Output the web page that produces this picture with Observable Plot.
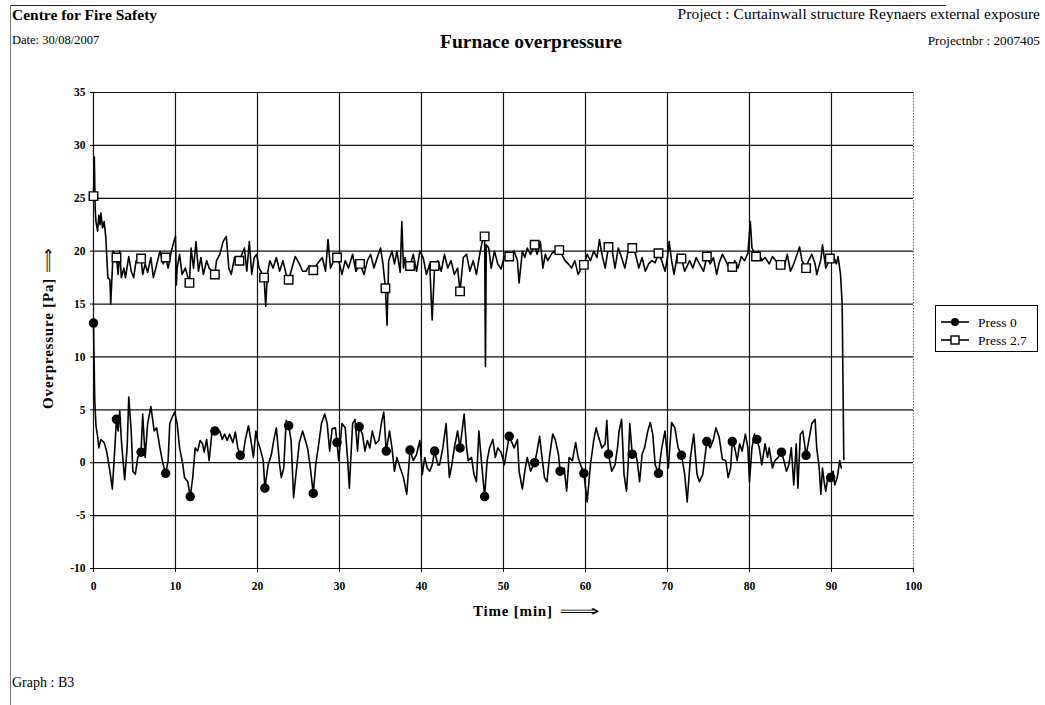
<!DOCTYPE html>
<html><head><meta charset="utf-8">
<script src="https://cdn.jsdelivr.net/npm/d3@7"></script>
<script src="https://cdn.jsdelivr.net/npm/@observablehq/plot@0.6"></script>
<style>
body{margin:0;background:#fff;}
#page{position:relative;width:1045px;height:705px;overflow:hidden;font-family:"Liberation Serif","Times New Roman",serif;color:#000;background:#fff;}
.t{position:absolute;white-space:nowrap;line-height:1;}
#chart{position:absolute;left:0;top:0;}
.arr{display:inline-block;transform:scaleX(1.9);transform-origin:left center;margin-left:6px;font-weight:normal;}
.arr2{display:inline-block;transform:scaleX(1.15);transform-origin:left center;margin-left:5px;font-weight:normal;}
</style></head><body>
<div id="page">
  <div style="position:absolute;left:10px;top:5px;width:936px;height:1px;background:#222"></div>
  <div style="position:absolute;left:10px;top:5px;width:1px;height:700px;background:#777"></div>
  <div class="t" style="left:12px;top:7px;font-size:15.5px;font-weight:bold">Centre for Fire Safety</div>
  <div class="t" style="left:12px;top:34px;font-size:12.5px">Date: 30/08/2007</div>
  <div class="t" style="left:0;width:1062px;text-align:center;top:32px;font-size:19.5px;font-weight:bold">Furnace overpressure</div>
  <div class="t" style="right:5px;top:6px;font-size:15.5px">Project : Curtainwall structure Reynaers external exposure</div>
  <div class="t" style="right:5px;top:34px;font-size:13.3px">Projectnbr : 2007405</div>
  <div id="chart"></div>
  <div class="t" style="left:473px;top:604px;font-size:15px;font-weight:bold;letter-spacing:0.8px">Time [min]<span class="arr">&#x27F9;</span></div>
  <div class="t" style="left:48px;top:328px;font-size:15px;font-weight:bold;letter-spacing:0.8px;transform:translate(-50%,-50%) rotate(-90deg)">Overpressure [Pa]<span class="arr2">&#x27F9;</span><span style="display:inline-block;width:3px"></span></div>
  <div class="t" style="left:12px;top:676px;font-size:14px">Graph : B3</div>
  <div id="legend" style="position:absolute;left:935px;top:305px;width:103px;height:47px;border:1px solid #000;box-sizing:border-box;background:#fff"></div>
</div>
<script>
// ---- data ----
const seriesNames = ["Press 0", "Press 2.7"];
const xTicks = [0, 10, 20, 30, 40, 50, 60, 70, 80, 90, 100];
const yTicks = [-10, -5, 0, 5, 10, 15, 20, 25, 30, 35];
const markerTimes = [0, 2.8, 5.8, 8.8, 11.75, 14.8, 17.85, 20.85, 23.8, 26.8, 29.7, 32.5, 35.65, 38.6, 41.6, 44.7, 47.7, 50.7, 53.8, 56.9, 59.8, 62.8, 65.7, 68.9, 71.7, 74.8, 77.9, 80.9, 83.9, 86.9, 89.8];

const press0Pairs = [[0,13.2],[0.15,6],[0.3,3.5],[0.5,2.5],[0.65,1.4],[0.9,2.2],[1.3,1.9],[1.6,1.1],[2.0,-0.8],[2.3,-2.5],[2.6,1.4],[2.8,4.1],[3.0,3.0],[3.2,4.9],[3.4,2.1],[3.8,-1.6],[4.1,1.4],[4.3,6.2],[4.6,3.0],[4.8,-0.8],[5.1,-1.1],[5.4,0.5],[5.8,1.0],[6.0,4.6],[6.3,0.5],[6.6,3.7],[7.0,5.3],[7.4,3.0],[7.7,3.3],[8.1,1.4],[8.5,-0.2],[8.8,-1.0],[9.1,0.2],[9.3,3.7],[9.6,4.3],[9.9,4.8],[10.2,3.7],[10.5,1.4],[10.9,-0.2],[11.1,-1.4],[11.5,-1.8],[11.8,-3.2],[12.1,-1.4],[12.4,1.4],[12.7,1.1],[13.0,2.1],[13.3,1.8],[13.5,1.0],[13.8,2.2],[14.1,0.2],[14.5,3.3],[14.8,3.0],[15.0,2.7],[15.4,3.0],[15.7,2.2],[16.0,2.7],[16.3,2.1],[16.6,2.7],[17.0,1.9],[17.3,2.9],[17.6,1.4],[17.9,0.7],[18.2,0.5],[18.5,2.1],[18.9,3.5],[19.2,2.1],[19.5,0.5],[19.8,3.0],[20.0,2.1],[20.3,1.4],[20.7,0.2],[20.9,-2.4],[21.3,-0.2],[21.7,0.8],[22.0,2.2],[22.3,3.3],[22.7,-0.2],[22.9,-1.4],[23.2,-0.5],[23.5,4.0],[23.8,3.5],[24.1,2.1],[24.4,-3.3],[24.7,-1.0],[25.1,1.9],[25.5,3.0],[25.8,2.2],[26.1,1.4],[26.4,-0.2],[26.8,-2.9],[27.1,-0.2],[27.4,1.4],[27.8,3.7],[28.2,4.6],[28.5,3.7],[28.8,1.1],[29.1,3.2],[29.5,3.3],[29.7,1.9],[29.9,0.2],[30.3,3.7],[30.7,3.3],[31.0,0.2],[31.2,-2.4],[31.6,3.7],[31.9,4.1],[32.2,1.1],[32.4,3.4],[32.8,2.7],[33.1,1.1],[33.4,2.1],[33.7,1.4],[34.0,3.0],[34.4,1.8],[34.8,2.1],[35.1,3.7],[35.4,4.8],[35.7,1.1],[36.1,3.0],[36.4,1.4],[36.7,-0.8],[37.0,0.5],[37.4,-0.5],[37.8,-1.4],[38.2,-3.0],[38.6,1.2],[39.0,0.2],[39.4,0.8],[39.8,2.1],[40.1,-1.1],[40.4,0.5],[40.7,-0.5],[41.0,-0.8],[41.3,-0.2],[41.6,1.1],[42.0,-0.2],[42.2,-0.2],[42.6,1.4],[43.0,3.7],[43.4,-1.4],[43.7,-0.2],[44.0,1.4],[44.4,3.0],[44.7,1.4],[44.9,2.7],[45.2,4.6],[45.5,1.4],[45.7,0.2],[46.1,0.5],[46.4,-1.1],[46.7,-1.8],[47.0,3.0],[47.3,0.2],[47.7,-3.2],[48.0,0.2],[48.3,1.4],[48.7,2.2],[49.0,0.5],[49.3,1.4],[49.7,1.0],[50.1,-0.2],[50.7,2.5],[51.3,1.4],[51.7,2.2],[51.9,-0.8],[52.3,-2.5],[52.6,-0.8],[52.9,0.5],[53.3,-0.8],[53.8,0.0],[54.1,1.1],[54.4,2.5],[54.7,0.5],[55.0,-1.4],[55.3,-1.8],[55.6,0.5],[56.0,2.7],[56.3,2.2],[56.7,0.8],[56.9,-0.8],[57.4,-0.5],[57.7,-2.7],[58.0,0.5],[58.4,0.2],[58.8,1.9],[59.1,0.5],[59.4,-0.2],[59.8,-1.0],[60.2,-3.7],[60.6,-0.2],[61.0,2.1],[61.3,3.3],[61.6,2.4],[62.0,1.4],[62.4,1.8],[62.6,4.0],[62.8,0.8],[63.2,-0.8],[63.6,-0.2],[63.9,1.4],[64.1,3.0],[64.4,4.1],[64.7,-1.1],[65.0,-2.7],[65.2,-0.2],[65.4,3.7],[65.7,0.8],[66.0,1.1],[66.3,0.2],[66.6,-1.8],[66.9,0.8],[67.2,1.4],[67.6,3.0],[67.9,3.8],[68.2,2.7],[68.5,-0.2],[68.9,-1.0],[69.3,1.4],[69.7,3.0],[70.1,-0.5],[70.5,3.8],[70.9,3.3],[71.3,1.4],[71.7,0.7],[72.1,-1.1],[72.4,-3.7],[72.8,0.5],[73.2,2.7],[73.6,-1.1],[73.9,-1.8],[74.3,-1.1],[74.8,2.0],[75.2,1.4],[75.6,2.2],[75.9,3.3],[76.3,2.4],[76.7,0.3],[77.1,0.2],[77.4,-1.4],[77.7,-0.5],[77.9,2.0],[78.2,1.4],[78.5,0.2],[78.8,1.8],[79.1,1.1],[79.5,2.7],[79.8,1.4],[80.0,-1.8],[80.3,1.4],[80.6,2.7],[80.9,2.2],[81.2,1.4],[81.5,-0.2],[81.9,1.8],[82.2,0.5],[82.4,1.4],[82.8,-0.5],[83.1,0.2],[83.5,0.5],[83.9,1.0],[84.2,0.2],[84.5,-0.8],[84.8,-0.2],[85.1,1.4],[85.4,-2.1],[85.7,1.8],[85.9,-2.4],[86.2,2.7],[86.5,3.0],[86.9,0.7],[87.3,2.4],[87.6,3.7],[88.0,4.1],[88.2,1.4],[88.5,-0.5],[88.7,-3.0],[88.9,-0.5],[89.1,-1.8],[89.3,-2.7],[89.6,-1.1],[89.9,-1.4],[90.2,-0.8],[90.4,-2.1],[90.7,-1.4],[91.0,0.2],[91.2,-0.5]];

const press27Pairs = [[0,25.2],[0.1,28.9],[0.2,24.1],[0.3,22.8],[0.5,21.9],[0.65,23.4],[0.8,22.5],[0.9,23.6],[1.1,22.2],[1.3,22.8],[1.5,21.3],[1.75,17.5],[2.0,17.3],[2.1,15.0],[2.4,20.0],[2.8,19.4],[3.0,17.8],[3.2,20.0],[3.4,17.5],[3.7,18.4],[3.9,17.5],[4.3,19.5],[4.6,18.1],[4.9,17.5],[5.2,19.1],[5.8,19.3],[6.0,17.8],[6.3,18.8],[6.6,18.0],[7.0,19.4],[7.3,17.5],[7.6,18.4],[8.1,20.0],[8.5,18.8],[8.8,19.4],[9.1,18.4],[9.5,20.0],[9.8,20.9],[10.0,21.4],[10.1,16.8],[10.2,18.4],[10.5,19.7],[10.8,17.8],[11.2,18.4],[11.7,17.0],[11.9,20.3],[12.2,18.4],[12.5,20.9],[12.8,18.1],[13.1,19.4],[13.4,17.8],[13.8,19.1],[14.1,18.4],[14.8,17.8],[15.0,19.1],[15.4,19.7],[15.8,20.9],[16.2,21.4],[16.5,18.4],[16.8,17.8],[17.2,19.4],[17.8,19.1],[18.0,19.5],[18.4,20.3],[18.7,18.1],[19.0,20.9],[19.3,17.8],[19.6,19.4],[19.9,19.7],[20.2,18.4],[20.8,17.5],[21.0,14.8],[21.2,17.8],[21.5,19.1],[21.9,18.4],[22.3,19.4],[22.7,18.1],[23.1,19.1],[23.5,17.8],[23.8,17.3],[24.2,18.4],[24.6,19.5],[25.1,18.8],[25.5,18.1],[25.9,18.1],[26.3,18.6],[26.8,18.2],[27.3,18.8],[27.9,19.4],[28.3,18.1],[28.6,21.1],[28.9,18.4],[29.3,19.1],[29.7,19.4],[30.0,18.8],[30.3,17.8],[30.7,19.1],[31.1,18.4],[31.6,19.7],[32.0,18.1],[32.5,18.8],[33.0,17.8],[33.4,19.1],[33.8,19.7],[34.2,18.4],[34.6,19.4],[35.0,20.3],[35.3,18.8],[35.6,16.5],[35.8,13.0],[36.0,19.1],[36.4,20.0],[36.7,18.8],[37.0,20.0],[37.4,18.0],[37.6,22.8],[37.8,18.4],[38.0,19.4],[38.3,18.4],[38.6,18.6],[39.0,19.7],[39.4,18.1],[39.8,20.0],[40.2,19.4],[40.6,17.8],[41.0,18.8],[41.3,13.5],[41.6,18.6],[42.0,19.1],[42.4,18.1],[42.8,19.7],[43.2,18.4],[43.6,19.1],[44.0,17.8],[44.4,18.4],[44.7,16.2],[45.1,19.4],[45.5,19.7],[45.9,18.1],[46.3,19.1],[46.7,17.8],[47.1,19.7],[47.4,20.9],[47.7,21.4],[47.8,9.1],[47.9,20.6],[48.2,20.3],[48.5,18.4],[48.9,20.0],[49.3,18.8],[49.7,18.3],[50.1,19.5],[50.7,19.5],[51.3,20.0],[51.7,19.1],[51.9,17.0],[52.3,20.0],[52.6,19.4],[52.9,20.3],[53.3,19.7],[53.8,20.6],[54.1,19.7],[54.5,20.9],[54.8,18.4],[55.1,19.7],[55.4,19.1],[55.9,19.8],[56.3,20.0],[56.8,20.1],[57.1,19.7],[57.5,19.1],[57.9,18.8],[58.3,18.4],[58.7,19.1],[59.1,17.8],[59.5,18.4],[59.8,18.7],[60.2,19.7],[60.6,19.1],[61.0,20.0],[61.4,19.4],[61.7,21.1],[62.0,19.7],[62.4,18.4],[62.8,20.4],[63.2,20.3],[63.6,18.4],[64.0,20.3],[64.4,19.4],[64.8,18.4],[65.2,20.0],[65.7,20.3],[66.1,19.7],[66.5,18.4],[66.9,19.4],[67.3,18.1],[67.7,18.8],[68.1,19.1],[68.5,18.9],[68.9,19.8],[69.3,19.1],[69.7,18.1],[70.0,19.4],[70.2,20.9],[70.5,19.1],[70.8,17.8],[71.2,19.7],[71.7,19.3],[72.1,18.1],[72.7,19.1],[73.1,18.4],[73.5,19.4],[73.9,18.8],[74.4,18.1],[74.8,19.5],[75.2,18.8],[75.6,19.4],[76.0,17.8],[76.3,18.9],[76.7,19.7],[77.1,19.1],[77.5,18.4],[77.9,18.5],[78.2,19.1],[78.6,18.4],[79.0,19.5],[79.4,19.1],[79.8,19.8],[80.1,22.8],[80.3,20.3],[80.8,19.5],[81.1,20.0],[81.5,19.1],[81.9,19.4],[82.4,18.8],[82.8,19.5],[83.2,19.1],[83.8,18.7],[84.2,18.4],[84.6,19.7],[85.0,18.1],[85.4,18.8],[85.8,19.7],[86.1,20.4],[86.4,19.1],[86.9,18.4],[87.2,19.1],[87.6,19.7],[88.0,18.8],[88.2,17.8],[88.7,19.2],[88.9,20.6],[89.3,18.4],[89.8,19.3],[90.3,19.4],[90.6,18.8],[90.8,19.5],[91.1,17.8],[91.3,15.0],[91.5,0.3]];

// ---- build tables ----
const press0 = press0Pairs.map(([t, v]) => ({t, v}));
const press27 = press27Pairs.map(([t, v]) => ({t, v}));
const pickMarkers = data => markerTimes.map(m => d3.least(data, d => Math.abs(d.t - m)));
const marks0 = pickMarkers(press0);
const marks27 = pickMarkers(press27);
const gridX = xTicks.filter(d => d < 100);

const chart = Plot.plot({
  width: 1045, height: 705,
  marginLeft: 93, marginRight: 132, marginTop: 92, marginBottom: 137,
  x: {domain: [0, 100], label: null},
  y: {domain: [-10, 35], label: null},
  style: {fontFamily: "'Liberation Serif', 'Times New Roman', serif", fontSize: "11.5px", background: "transparent", color: "#000"},
  marks: [
    Plot.ruleX(gridX, {stroke: "#111", strokeWidth: 1.2}),
    Plot.ruleX([100], {stroke: "#666", strokeWidth: 1, strokeDasharray: "1.5,1.5"}),
    Plot.ruleY(yTicks, {stroke: "#111", strokeWidth: 1.2}),
    Plot.axisX({ticks: xTicks, tickFormat: d => String(d), tickSize: 4, tickPadding: 9, fontWeight: "bold", label: null, strokeWidth: 1}),
    Plot.axisY({ticks: yTicks, tickFormat: d => String(d), tickSize: 3, tickPadding: 5, fontWeight: "bold", label: null, strokeWidth: 1}),
    Plot.line(press0, {x: "t", y: "v", stroke: "#000", strokeWidth: 1.6}),
    Plot.line(press27, {x: "t", y: "v", stroke: "#000", strokeWidth: 1.6}),
    Plot.dot(marks0, {x: "t", y: "v", r: 4, fill: "#000", stroke: "#000"}),
    Plot.dot(marks27, {x: "t", y: "v", r: 4.8, symbol: "square", fill: "#fff", stroke: "#000", strokeWidth: 1.4})
  ]
});
document.getElementById("chart").appendChild(chart);

// ---- legend ----
const lg = d3.select("#legend").append("svg").attr("width", 101).attr("height", 45);
seriesNames.forEach((name, i) => {
  const y = 16 + i * 18;
  const g = lg.append("g");
  g.append("line").attr("x1", 5).attr("x2", 33).attr("y1", y).attr("y2", y).attr("stroke", "#000").attr("stroke-width", 1.6);
  if (i === 0) g.append("circle").attr("cx", 19).attr("cy", y).attr("r", 4).attr("fill", "#000");
  else g.append("rect").attr("x", 15).attr("y", y - 4).attr("width", 8).attr("height", 8).attr("fill", "#fff").attr("stroke", "#000").attr("stroke-width", 1.4);
  g.append("text").attr("x", 42).attr("y", y + 4.5).attr("font-size", 13.5).attr("font-family", "'Liberation Serif', serif").text(name);
});
</script>
</body></html>
